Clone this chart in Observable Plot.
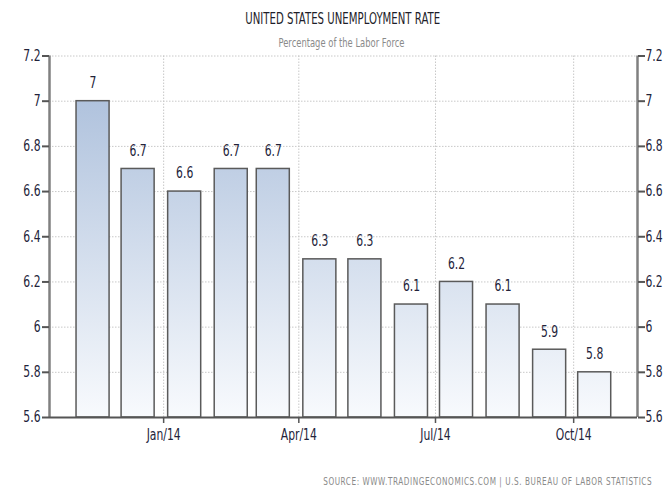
<!DOCTYPE html>
<html>
<head>
<meta charset="utf-8">
<script src="https://cdn.jsdelivr.net/npm/d3@7"></script>
<script src="https://cdn.jsdelivr.net/npm/@observablehq/plot@0.6"></script>
<style>
  body { margin: 0; background: #fff; }
  #wrap { position: relative; width: 672px; height: 488px; font-family: "DejaVu Sans", sans-serif; }
  #wrap svg { position: absolute; left: 0; top: 0; }
  .t { position: absolute; white-space: nowrap; display: inline-block; }
  #title { top: 10px; font-size: 15.5px; color: #1e1e2a; transform-origin: center top; }
  #subtitle { top: 36px; font-size: 11.5px; color: #8a8a8a; transform-origin: center top; }
  #source { top: 475px; font-size: 10.5px; color: #8a8a8a; letter-spacing: 0.8px; transform-origin: right top; }
</style>
</head>
<body>
<div id="wrap">
  <span class="t" id="title">UNITED STATES UNEMPLOYMENT RATE</span>
  <span class="t" id="subtitle">Percentage of the Labor Force</span>
  <span class="t" id="source">SOURCE: WWW.TRADINGECONOMICS.COM | U.S. BUREAU OF LABOR STATISTICS</span>
</div>
<script>
// ---- data ----
const months = ["2013-11", "2013-12", "2014-01", "2014-02", "2014-03", "2014-04",
                "2014-05", "2014-06", "2014-07", "2014-08", "2014-09", "2014-10"];
const rates = [7.0, 6.7, 6.6, 6.7, 6.7, 6.3, 6.3, 6.1, 6.2, 6.1, 5.9, 5.8];
const rateLabels = ["7", "6.7", "6.6", "6.7", "6.7", "6.3", "6.3", "6.1", "6.2", "6.1", "5.9", "5.8"];
const yTicks = [5.6, 5.8, 6.0, 6.2, 6.4, 6.6, 6.8, 7.0, 7.2];
const yTickLabels = ["5.6", "5.8", "6", "6.2", "6.4", "6.6", "6.8", "7", "7.2"];
const xTickDates = ["2014-01-01", "2014-04-01", "2014-07-01", "2014-10-01"];
const xTickLabels = ["Jan/14", "Apr/14", "Jul/14", "Oct/14"];
const xDomain = ["2013-10-17", "2014-11-12T12:00"];

// ---- build ----
const parseMonth = d3.utcParse("%Y-%m");
const data = months.map((m, i) => {
  const start = parseMonth(m);
  const mid = d3.utcDay.offset(start, 14);
  return {
    month: start,
    mid,
    x1: d3.utcDay.offset(mid, -11),
    x2: d3.utcDay.offset(mid, 11),
    value: rates[i],
    label: rateLabels[i]
  };
});
const xTicks = xTickDates.map(d => new Date(d + "T00:00Z"));
const xDom = xDomain.map(d => new Date(d + "Z"));
const yLab = new Map(yTicks.map((t, i) => [t.toFixed(1), yTickLabels[i]]));
const xLab = new Map(xTicks.map((t, i) => [+t, xTickLabels[i]]));
const ink = "#23233a";

const chart = Plot.plot({
  width: 672,
  height: 488,
  marginLeft: 49,
  marginRight: 35,
  marginTop: 55.5,
  marginBottom: 71,
  style: { fontFamily: '"DejaVu Sans", sans-serif', fontSize: "15px", color: ink, background: "transparent" },
  x: { type: "utc", domain: xDom, label: null },
  y: { domain: [yTicks[0], yTicks[yTicks.length - 1]], label: null },
  marks: [
    Plot.gridY(yTicks, { stroke: "#c8c8c8", strokeOpacity: 1, strokeDasharray: "1.5,1.5" }),
    Plot.gridX(xTicks, { stroke: "#c8c8c8", strokeOpacity: 1, strokeDasharray: "1.5,1.5" }),
    Plot.rect(data, {
      x1: "x1", x2: "x2", y1: () => yTicks[0], y2: "value",
      fill: "url(#barGrad)", stroke: "#5a5a5a", strokeWidth: 1.5
    }),
    Plot.text(data, {
      x: "mid", y: "value", text: "label", dy: -18,
      fontSize: 15, fill: ink
    }),
    Plot.ruleX([xDom[0], xDom[1]], { stroke: "#808080", strokeWidth: 2.5 }),
    Plot.ruleY([yTicks[0]], { stroke: "#555", strokeWidth: 2 }),
    Plot.axisY(yTicks, {
      anchor: "left", tickSize: 7, tickPadding: 2, strokeWidth: 2, stroke: "#555",
      tickFormat: d => yLab.get(d.toFixed(1)), fontSize: 15, fill: ink
    }),
    Plot.axisY(yTicks, {
      anchor: "right", tickSize: 7, tickPadding: 1, strokeWidth: 2, stroke: "#555",
      tickFormat: d => yLab.get(d.toFixed(1)), fontSize: 15, fill: ink
    }),
    Plot.axisX(xTicks, {
      anchor: "bottom", tickSize: 6, tickPadding: 6, stroke: "#555", strokeWidth: 1.5,
      tickFormat: d => xLab.get(+d), fontSize: 15, fill: ink
    })
  ]
});

// gradient definition spanning the plot area (top darker, bottom lighter)
const ys = chart.scale("y");
const ns = "http://www.w3.org/2000/svg";
const defs = document.createElementNS(ns, "defs");
const grad = document.createElementNS(ns, "linearGradient");
grad.setAttribute("id", "barGrad");
grad.setAttribute("gradientUnits", "userSpaceOnUse");
grad.setAttribute("x1", "0"); grad.setAttribute("x2", "0");
grad.setAttribute("y1", ys.apply(yTicks[yTicks.length - 1]));
grad.setAttribute("y2", ys.apply(yTicks[0]));
[["0%", "#a6bbd9"], ["100%", "#f8fafd"]].forEach(([o, c]) => {
  const s = document.createElementNS(ns, "stop");
  s.setAttribute("offset", o); s.setAttribute("stop-color", c);
  grad.appendChild(s);
});
defs.appendChild(grad);
chart.insertBefore(defs, chart.firstChild);

// condense SVG text horizontally (narrow face not installed)
const squeeze = 0.72;
chart.querySelectorAll("text").forEach(t => {
  const tr = t.getAttribute("transform");
  if (tr) t.setAttribute("transform", `${tr} scale(${squeeze},1)`);
});

const wrap = document.getElementById("wrap");
wrap.appendChild(chart);

// fit the HTML titles to the reference widths (condensed look)
function fit(id, width, anchorX, align) {
  const el = document.getElementById(id);
  const w = el.getBoundingClientRect().width;
  const s = width / w;
  if (align === "center") {
    el.style.left = (anchorX - w / 2) + "px";
  } else {
    el.style.left = (anchorX - w) + "px";
  }
  el.style.transform = `scaleX(${s})`;
}
fit("title", 195, 343, "center");
fit("subtitle", 126, 341, "center");
fit("source", 329, 652, "right");
</script>
</body>
</html>
